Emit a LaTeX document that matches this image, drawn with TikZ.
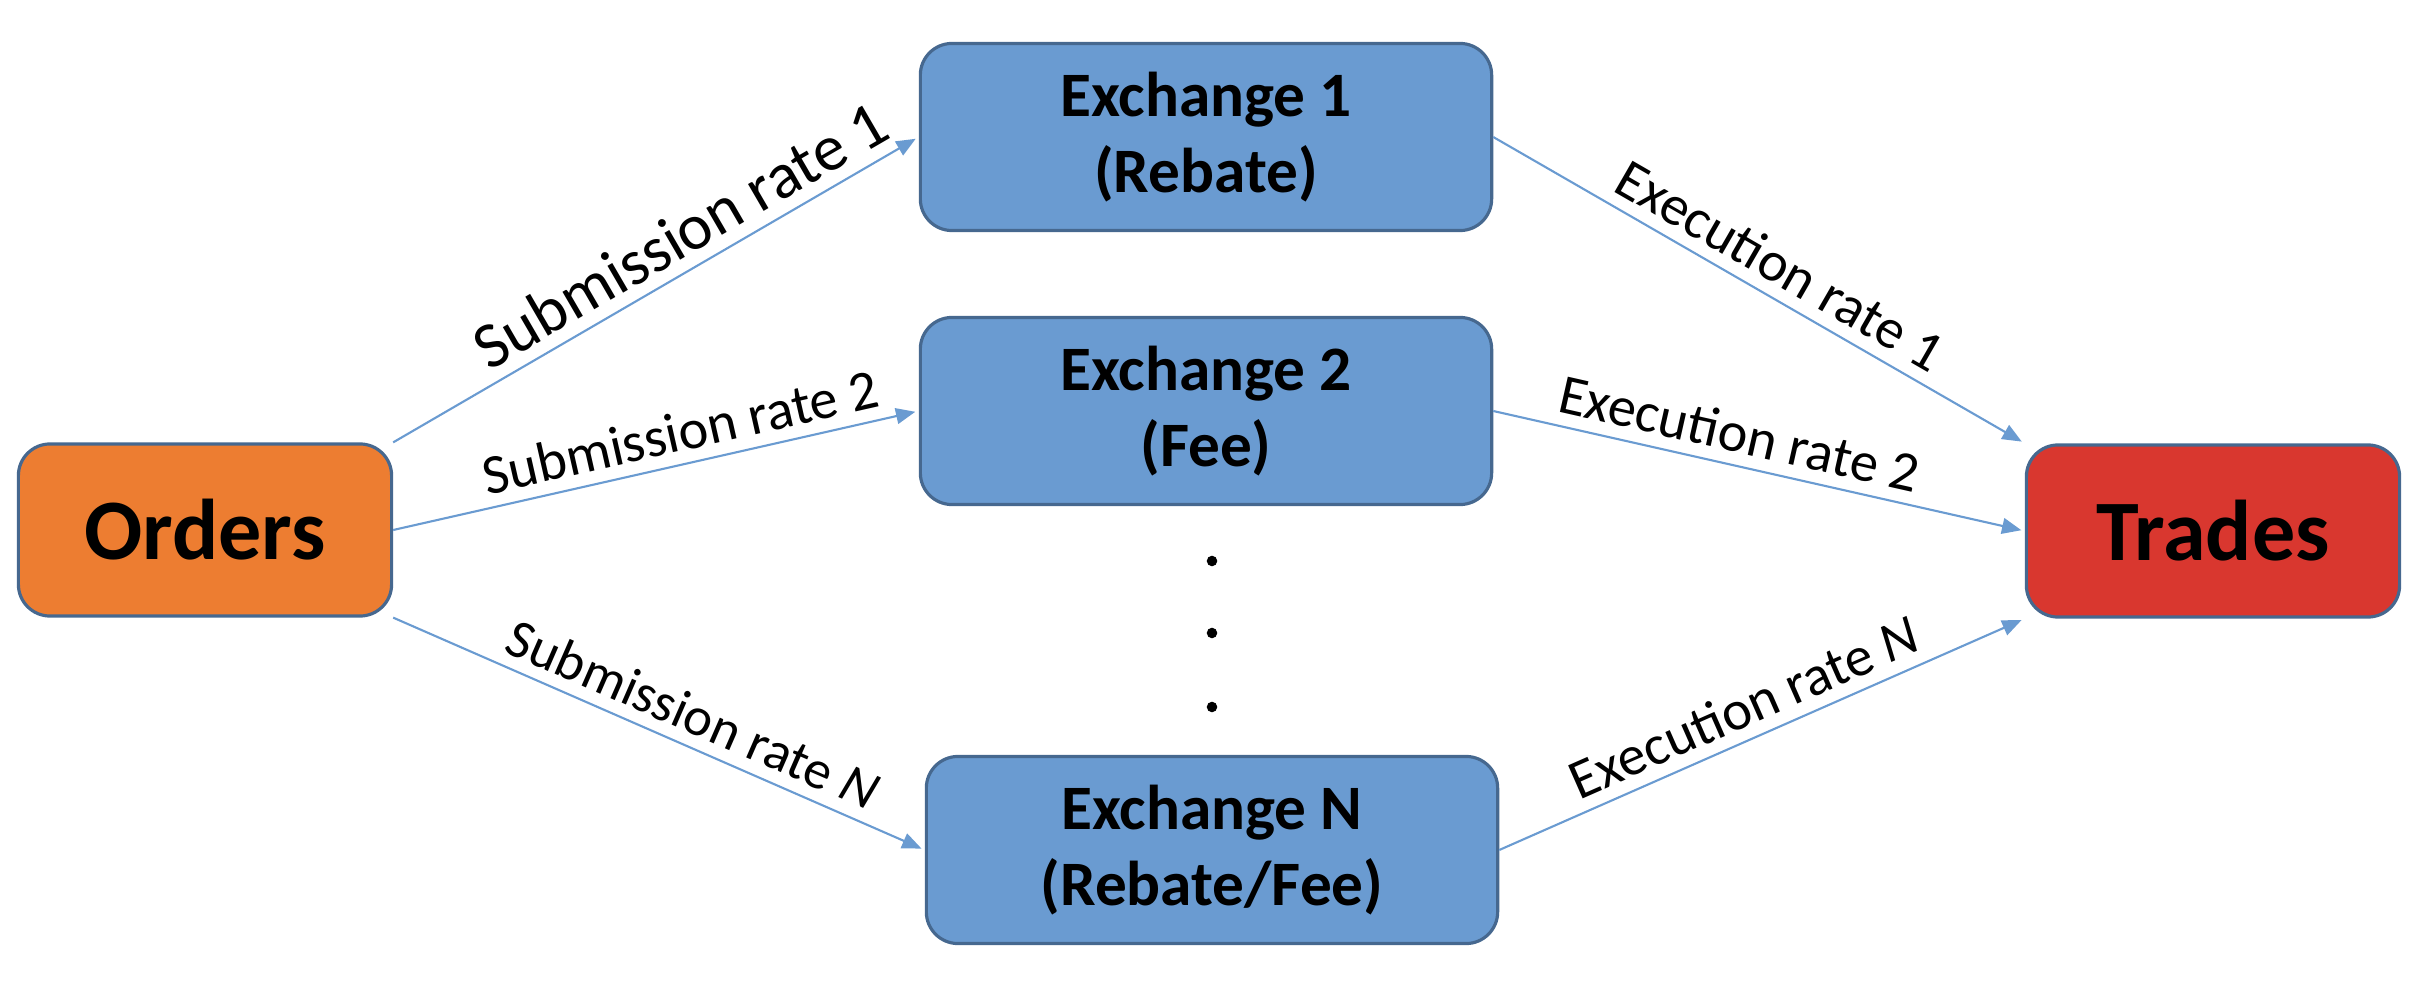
\documentclass[tikz,border=0pt]{standalone}
\usepackage{fontspec}
\setmainfont{Carlito}
\usepackage{xcolor}
\definecolor{colorOrders}{HTML}{ED7D31}
\definecolor{colorExchange}{HTML}{6A9BD1}
\definecolor{colorTrades}{HTML}{D9372F}
\definecolor{colorBorder}{HTML}{46688F}
\definecolor{colorFlow}{HTML}{6A9BD1}
\usepackage{tikz}
\usetikzlibrary{arrows.meta, positioning}
\tikzset{box/.style={draw=colorBorder, line width=0.9pt, rounded corners=9pt, inner sep=0pt, align=center}}

\begin{document}
\begin{tikzpicture}[x=0.01cm, y=-0.01cm, >={Triangle[length=5.5pt, width=4.5pt]},
  flow/.style={->, draw=colorFlow, fill=colorFlow, line width=0.6pt, shorten >=1pt},
  rate/.style={sloped, above, font=\fontsize{16}{19}\selectfont},
  bigbox/.style={box, minimum width=3.73cm, minimum height=1.72cm, font=\fontsize{24.5}{29}\selectfont\bfseries},
  exbox/.style={box, fill=colorExchange, minimum width=5.71cm, minimum height=1.87cm, font=\fontsize{18}{21.5}\selectfont\bfseries},
  dot/.style={circle, fill=black, inner sep=0pt, minimum size=3pt}]
\useasboundingbox (0,0) rectangle (2432,982);
\node[bigbox, fill=colorOrders] (orders) at (205,530) {Orders};
\node[exbox] (ex1) at (1206,137) {Exchange 1\\(Rebate)};
\node[exbox] (ex2) at (1206,411) {Exchange 2\\(Fee)};
\node[exbox] (exN) at (1212,850) {Exchange N\\(Rebate/Fee)};
\node[bigbox, fill=colorTrades] (trades) at (2213,531) {Trades};
\node[dot] (dot1) at (1212,561) {};
\node[dot] (dot2) at (1212,633) {};
\node[dot] (dot3) at (1212,707) {};
\draw[flow] (orders.north east) -- node[rate, pos=0.58, font=\fontsize{18.5}{22}\selectfont]{Submission rate 1} (ex1.west);
\draw[flow] (orders.east) -- node[rate, pos=0.56]{Submission rate 2} (ex2.west);
\draw[flow] (orders.south east) -- node[rate, pos=0.54, font=\fontsize{15.5}{19}\selectfont]{Submission rate \textit{N}} (exN.west);
\draw[flow] (ex1.east) -- node[rate, pos=0.51]{Execution rate 1} (trades.north west);
\draw[flow] (ex2.east) -- node[rate, pos=0.45]{Execution rate 2} (trades.west);
\draw[flow] (exN.east) -- node[rate, pos=0.49]{Execution rate \textit{N}} (trades.south west);
\end{tikzpicture}
\end{document}
